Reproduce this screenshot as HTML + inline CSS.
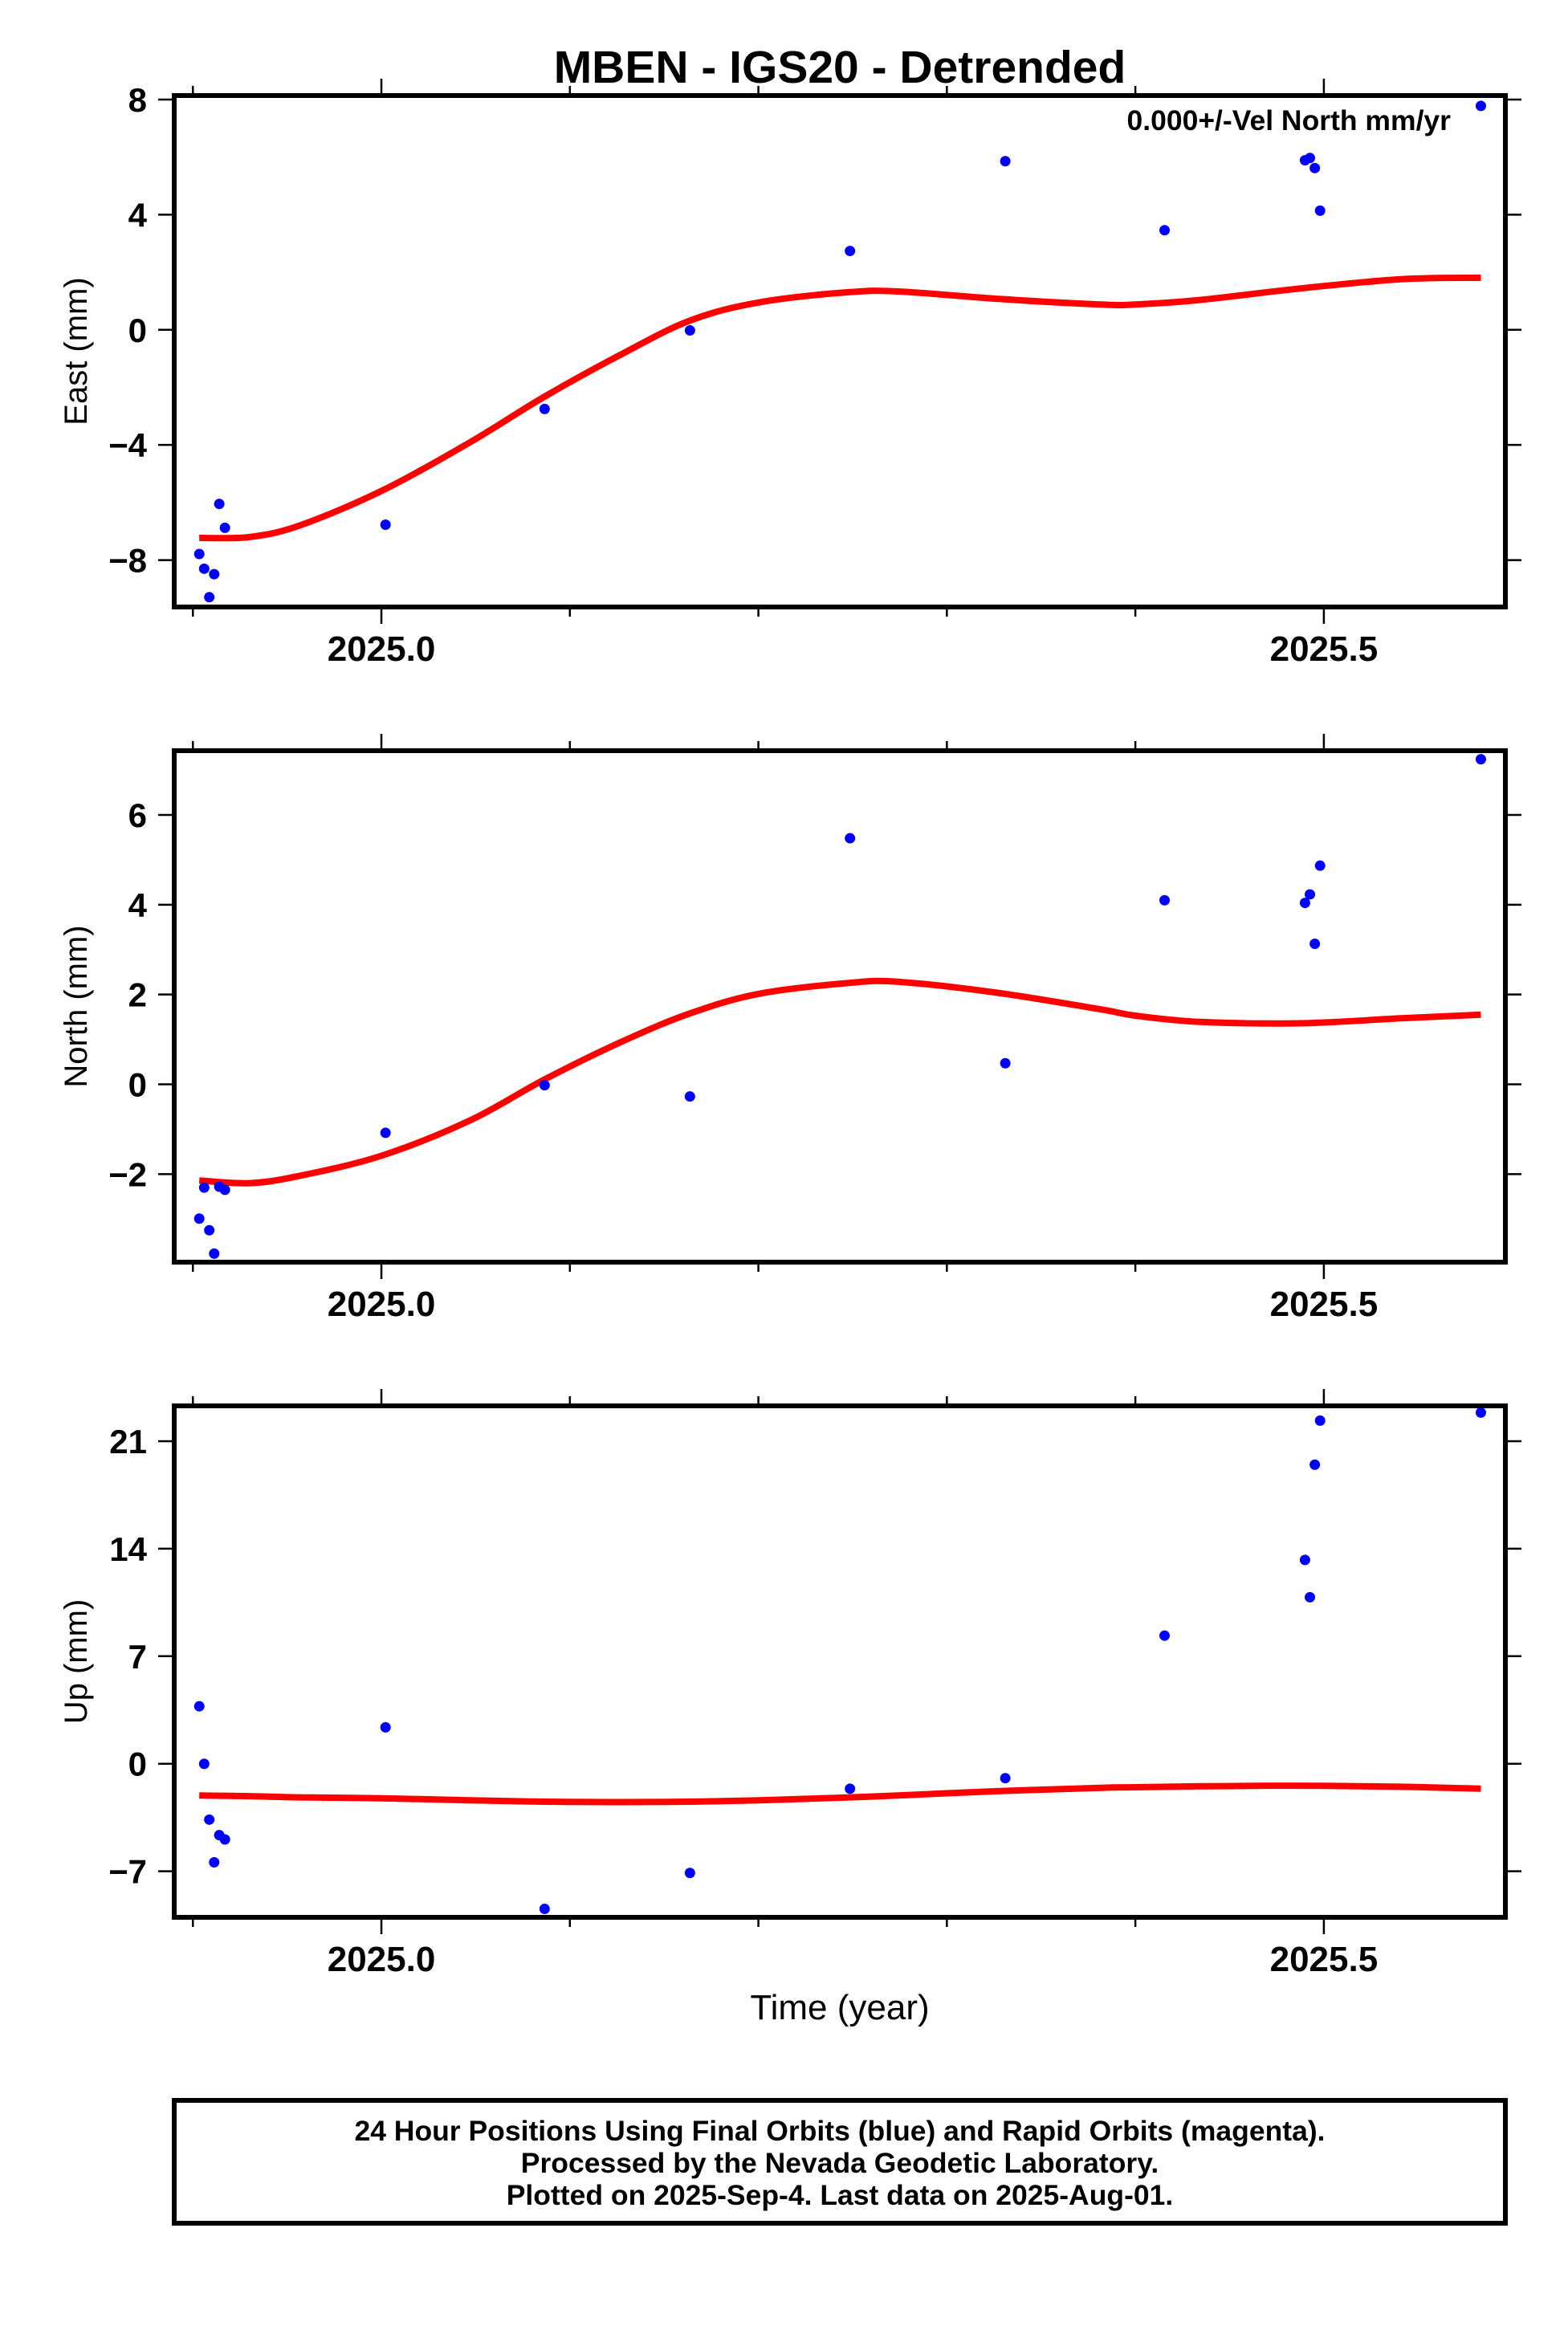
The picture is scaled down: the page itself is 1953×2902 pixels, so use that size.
<!DOCTYPE html>
<html><head><meta charset="utf-8"><style>
html,body{margin:0;padding:0;background:#fff;}
svg{display:block;font-family:"Liberation Sans",Arial,sans-serif;}
</style></head><body>
<svg id="chart" width="1953" height="2902" viewBox="0 0 1953 2902" xmlns="http://www.w3.org/2000/svg">
<rect width="1953" height="2902" fill="#fff"/>
<text x="1046" y="103" text-anchor="middle" font-size="57" font-weight="bold">MBEN - IGS20 - Detrended</text>
<g id="panels"></g>
<text x="1046" y="2515" text-anchor="middle" font-size="44">Time (year)</text>
<g>
<rect x="217" y="2616" width="1658" height="153" fill="none" stroke="#000" stroke-width="6"/>
<text x="1046" y="2666" text-anchor="middle" font-size="35.5" font-weight="bold">24 Hour Positions Using Final Orbits (blue) and Rapid Orbits (magenta).</text>
<text x="1046" y="2706" text-anchor="middle" font-size="35.5" font-weight="bold">Processed by the Nevada Geodetic Laboratory.</text>
<text x="1046" y="2746" text-anchor="middle" font-size="35.5" font-weight="bold">Plotted on 2025-Sep-4. Last data on 2025-Aug-01.</text>
</g>
</svg>
<script>
const times = [2024.9034,2024.906,2024.9087,2024.9113,2024.914,2024.917,2025.0022,2025.0866,2025.1637,2025.2486,2025.331,2025.4155,2025.49,2025.4926,2025.4952,2025.498,2025.5833];
const eastVals = [-7.79,-8.30,-9.29,-8.49,-6.05,-6.88,-6.77,-2.75,-0.02,2.74,5.86,3.46,5.89,5.97,5.62,4.14,7.78];
const northVals = [-2.99,-2.30,-3.25,-3.77,-2.28,-2.35,-1.08,-0.02,-0.27,5.48,0.47,4.10,4.04,4.23,3.13,4.87,7.24];
const upVals = [3.74,-0.01,-3.64,-6.42,-4.65,-4.93,2.37,-9.45,-7.11,-1.63,-0.94,8.34,13.27,10.84,19.47,22.34,22.86];
const curveTimes = [2024.9034,2024.93,2024.9565,2025.0,2025.0467,2025.0866,2025.1265,2025.1637,2025.2008,2025.2486,2025.2752,2025.3283,2025.3815,2025.4,2025.4346,2025.4877,2025.5408,2025.5833];
const eastCurve = [-7.23,-7.20,-6.80,-5.60,-3.92,-2.32,-0.88,0.32,0.96,1.31,1.33,1.07,0.88,0.88,1.04,1.44,1.76,1.81];
const northCurve = [-2.14,-2.20,-2.04,-1.59,-0.81,0.11,0.93,1.58,2.02,2.26,2.28,2.03,1.67,1.53,1.39,1.36,1.47,1.55];
const upCurve = [-2.07,-2.11,-2.19,-2.25,-2.38,-2.47,-2.50,-2.47,-2.38,-2.19,-2.06,-1.78,-1.57,-1.53,-1.47,-1.43,-1.50,-1.62];
const xTicks = [2024.9,2025.0,2025.1,2025.2,2025.3,2025.4,2025.5];
const xLabels = ["2025.0","2025.5"];
const eastTicks = [-8,-4,0,4,8];
const northTicks = [-2,0,2,4,6];
const upTicks = [-7,0,7,14,21];

const NS="http://www.w3.org/2000/svg";
const X0=217,X1=1875,T0=2024.8901,T1=2025.5963;
const sx=t=>X0+(t-T0)/(T1-T0)*(X1-X0);
function mk(tag,attrs,parent){const e=document.createElementNS(NS,tag);for(const k in attrs)e.setAttribute(k,attrs[k]);parent.appendChild(e);return e;}
function smooth(pts){
 let d='M'+pts[0][0].toFixed(1)+','+pts[0][1].toFixed(1);
 for(let i=0;i<pts.length-1;i++){
  const p0=pts[Math.max(0,i-1)],p1=pts[i],p2=pts[i+1],p3=pts[Math.min(pts.length-1,i+2)];
  const c1x=p1[0]+(p2[0]-p0[0])/6,c1y=p1[1]+(p2[1]-p0[1])/6;
  const c2x=p2[0]-(p3[0]-p1[0])/6,c2y=p2[1]-(p3[1]-p1[1])/6;
  d+=` C${c1x.toFixed(1)},${c1y.toFixed(1)} ${c2x.toFixed(1)},${c2y.toFixed(1)} ${p2[0].toFixed(1)},${p2[1].toFixed(1)}`;
 }
 return d;
}
const root=document.getElementById('panels');
const panels=[
 {name:'east',title:'East (mm)',top:119,bot:756,vmin:-9.63,vmax:8.14,ticks:eastTicks,vals:eastVals,curve:eastCurve},
 {name:'north',title:'North (mm)',top:935,bot:1572,vmin:-3.96,vmax:7.43,ticks:northTicks,vals:northVals,curve:northCurve},
 {name:'up',title:'Up (mm)',top:1751,bot:2388,vmin:-10.0,vmax:23.3,ticks:upTicks,vals:upVals,curve:upCurve}
];
panels.forEach(p=>{
 const g=mk('g',{},root);
 
 
 const sy=v=>p.bot-(v-p.vmin)/(p.vmax-p.vmin)*(p.bot-p.top);
 xTicks.forEach(t=>{
  const x=sx(t);const major=Math.abs(t-2025.0)<1e-6||Math.abs(t-2025.5)<1e-6;const L=major?18:9;
  const a=mk('line',{x1:x,x2:x,y1:p.top-3,y2:p.top-3-L,stroke:'#000','stroke-width':2.5},g);
  
  
  const b=mk('line',{x1:x,x2:x,y1:p.bot+3,y2:p.bot+3+L,stroke:'#000','stroke-width':2.5},g);
  
  
 });
 xLabels.forEach(l=>{
  const t=mk('text',{x:sx(parseFloat(l)),y:p.bot+67,'text-anchor':'middle','font-size':44,'font-weight':'bold'},g);
  t.textContent=l;
  
  
 });
 p.ticks.forEach(v=>{
  const y=sy(v);
  const a=mk('line',{x1:X0-3,x2:X0-20,y1:y,y2:y,stroke:'#000','stroke-width':2.5},g);
  
  
  const b=mk('line',{x1:X1+3,x2:X1+20,y1:y,y2:y,stroke:'#000','stroke-width':2.5},g);
  
  
  const t=mk('text',{x:183,y:y+15,'text-anchor':'end','font-size':42,'font-weight':'bold'},g);
  t.textContent=(v<0?'\u2212'+Math.abs(v):String(v));
  
  
 });
 const yt=mk('text',{x:0,y:0,'text-anchor':'middle','font-size':40,transform:`translate(108,${(p.top+p.bot)/2}) rotate(-90)`},g);
 yt.textContent=p.title;
 
 
 const pts=curveTimes.map((t,i)=>[sx(t),sy(p.curve[i])]);
 const c=mk('path',{d:smooth(pts),fill:'none',stroke:'#f00','stroke-width':8,'stroke-linejoin':'round'},g);
 
 
 times.forEach((t,i)=>{
  const pt=mk('circle',{cx:sx(t),cy:sy(p.vals[i]),r:6.5,fill:'#00f'},g);
  
  
 });
 const fr=mk('rect',{x:X0,y:p.top,width:X1-X0,height:p.bot-p.top,fill:'none',stroke:'#000','stroke-width':6},g);
 
 
 if(p.name==='east'){
  const a=mk('text',{x:1807,y:162,'text-anchor':'end','font-size':35.5,'font-weight':'bold'},g);
  a.textContent='0.000+/-Vel North mm/yr';
  
  
 }
});
</script>
</body></html>
